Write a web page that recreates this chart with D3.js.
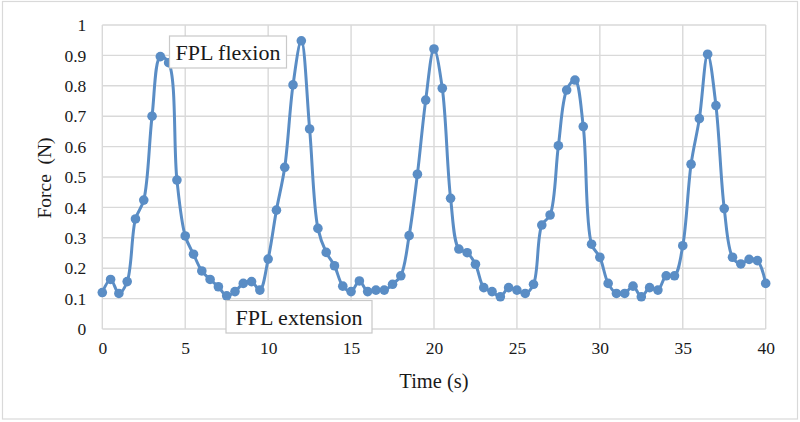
<!DOCTYPE html>
<html>
<head>
<meta charset="utf-8">
<script src="https://cdn.jsdelivr.net/npm/d3@7"></script>
<style>
  body { margin: 0; background: #fff; }
  svg { display: block; }
  text { font-family: "Liberation Serif", "Times New Roman", serif; fill: #1a1a1a; }
</style>
</head>
<body>
<svg id="chart"></svg>
<script>
// time samples every 0.5 s, 0..40
const times = d3.range(0, 40.01, 0.5);
const force = [
  0.120, 0.163, 0.117, 0.156, 0.362, 0.424, 0.700, 0.896, 0.876, 0.490,
  0.306, 0.246, 0.191, 0.163, 0.139, 0.109, 0.123, 0.150, 0.156, 0.128,
  0.230, 0.391, 0.532, 0.803, 0.948, 0.658, 0.331, 0.252, 0.208, 0.141,
  0.123, 0.158, 0.123, 0.128, 0.128, 0.147, 0.175, 0.307, 0.509, 0.753,
  0.921, 0.792, 0.430, 0.263, 0.251, 0.213, 0.136, 0.123, 0.106, 0.136,
  0.128, 0.117, 0.147, 0.342, 0.375, 0.603, 0.786, 0.819, 0.666, 0.279,
  0.236, 0.150, 0.117, 0.117, 0.141, 0.106, 0.136, 0.128, 0.175, 0.175,
  0.274, 0.542, 0.692, 0.904, 0.735, 0.396, 0.236, 0.214, 0.229, 0.225,
  0.150
];
const xTicks = [0, 5, 10, 15, 20, 25, 30, 35, 40];
const yTicks = [0, 0.1, 0.2, 0.3, 0.4, 0.5, 0.6, 0.7, 0.8, 0.9, 1];
const notes = ["FPL flexion", "FPL extension"];

const data = times.map((t, i) => ({ t, v: force[i] }));

const width = 800, height = 422;
const color = '#5a8dc5';
const grid = '#d9d9d9';

const svg = d3.select('#chart').attr('width', width).attr('height', height);

svg.append('rect')
   .attr('width', width).attr('height', height).attr('fill', '#fff');

// outer chart border
svg.append('rect')
   .attr('x', 2.5).attr('y', 1.5)
   .attr('width', 795).attr('height', 417.5)
   .attr('fill', 'none').attr('stroke', grid).attr('stroke-width', 1.2);

const x = d3.scaleLinear().domain([0, 40]).range([102.3, 765.7]);
const y = d3.scaleLinear().domain([0, 1]).range([329, 25]);

// gridlines
svg.append('g')
   .selectAll('line')
   .data(yTicks)
   .enter()
   .append('line')
   .attr('x1', x(0)).attr('x2', x(40))
   .attr('y1', d => y(d)).attr('y2', d => y(d))
   .attr('stroke', grid).attr('stroke-width', 1.4);

svg.append('g')
   .selectAll('line')
   .data(xTicks)
   .enter()
   .append('line')
   .attr('x1', d => x(d)).attr('x2', d => x(d))
   .attr('y1', y(0)).attr('y2', y(1))
   .attr('stroke', grid).attr('stroke-width', 1.4);

// axes (labels only)
const xAxis = svg.append('g')
   .attr('transform', `translate(0,${y(0)})`)
   .call(d3.axisBottom(x).tickValues(xTicks).tickSize(0).tickPadding(13).tickFormat(d3.format('d')));
xAxis.select('.domain').remove();

const yAxis = svg.append('g')
   .attr('transform', `translate(${x(0)},0)`)
   .call(d3.axisLeft(y).tickValues(yTicks).tickSize(0).tickPadding(16).tickFormat(d => d === 0 || d === 1 ? d : d3.format('.1f')(d)));
yAxis.select('.domain').remove();

svg.selectAll('.tick text')
   .style('font-family', '"Liberation Serif", serif')
   .style('font-size', '17.5px')
   .attr('fill', '#1a1a1a');

// axis titles
svg.append('text')
   .attr('x', 434).attr('y', 388)
   .attr('text-anchor', 'middle')
   .style('font-size', '20.5px')
   .text('Time (s)');

svg.append('text')
   .attr('transform', 'translate(51,178) rotate(-90)')
   .attr('text-anchor', 'middle')
   .attr('xml:space', 'preserve')
   .style('white-space', 'pre')
   .style('font-size', '19.5px')
   .text('Force  (N)');

// series
const line = d3.line()
   .x(d => x(d.t))
   .y(d => y(d.v))
   .curve(d3.curveCatmullRom.alpha(0.5));

svg.append('path')
   .datum(data)
   .attr('d', line)
   .attr('fill', 'none')
   .attr('stroke', color)
   .attr('stroke-width', 3);

svg.append('g')
   .selectAll('circle')
   .data(data)
   .enter()
   .append('circle')
   .attr('cx', d => x(d.t))
   .attr('cy', d => y(d.v))
   .attr('r', 4.8)
   .attr('fill', color);

// annotation boxes
const boxes = [
    { text: notes[0], left: 169.5, top: 36, w: 117, h: 32 },
    { text: notes[1], left: 226, top: 300.5, w: 146, h: 32.5 }
];
const nb = svg.append('g')
   .selectAll('g')
   .data(boxes)
   .enter()
   .append('g');

nb.append('rect')
  .attr('x', d => d.left).attr('y', d => d.top)
  .attr('width', d => d.w).attr('height', d => d.h)
  .attr('fill', '#fff')
  .attr('stroke', '#c9c9c9')
  .attr('stroke-width', 1.2);

nb.append('text')
  .attr('x', d => d.left + d.w / 2)
  .attr('y', d => d.top + 24)
  .attr('text-anchor', 'middle')
  .style('font-size', '22px')
  .text(d => d.text);
</script>
</body>
</html>
